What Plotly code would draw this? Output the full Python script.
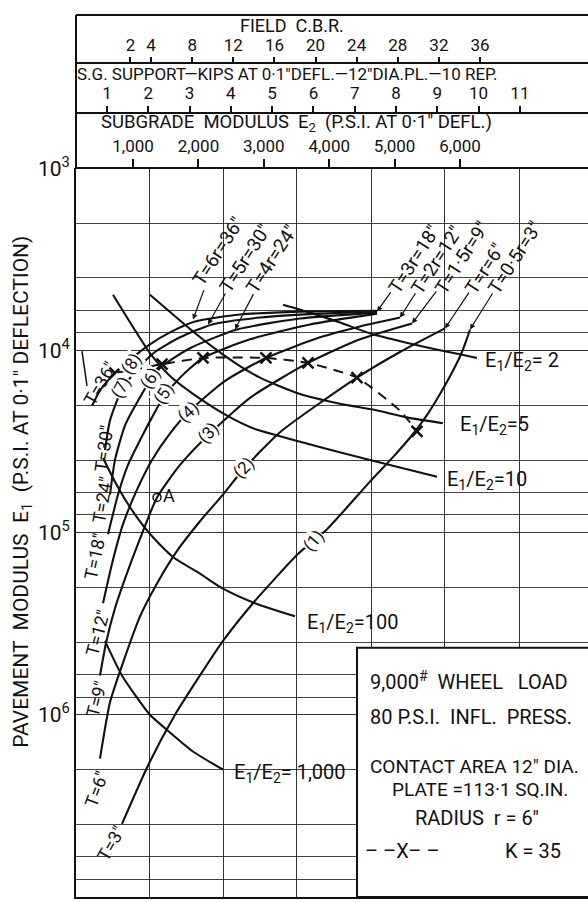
import math
import plotly.graph_objects as go

FONT = "Roboto, Liberation Sans, sans-serif"
INK = "#111111"

# ---------------- scales / tick labels ----------------
cbr_ticks = [2, 4, 8, 12, 16, 20, 24, 28, 32, 36]
kip_ticks = [1, 2, 3, 4, 5, 6, 7, 8, 9, 10, 11]
kip_labels = ["1", "2", "3", "4", "5", "6", "7", "8", "9", "10", "11"]
e2_ticks = [1000, 2000, 3000, 4000, 5000, 6000]
e2_labels = ["1,000", "2,000", "3,000", "4,000", "5,000", "6,000"]
e1_ticks = [1e3, 1e4, 1e5, 1e6, 1e7]
e1_labels = ["10<sup>3</sup>", "10<sup>4</sup>", "10<sup>5</sup>", "10<sup>6</sup>", "10<sup>7</sup>"]
e1_grid = [m * 10 ** p for p in range(3, 7) for m in (2, 4, 6, 8)]
e2_grid = [1259, 2376, 3507, 4639, 5770, 6902]

E2_RANGE = [128, 7957]
KIP_RANGE = [0.25, 12.65]
CBR_RANGE = [-3.3, 46.5]

# ---------------- thickness curves (E2 psi, E1 psi) ----------------
t36_e2 = [373, 495, 724, 985, 1259, 1566, 1948, 2636, 3553, 4731]
t36_e1 = [2.01e4, 1.66e4, 1.33e4, 1.10e4, 9.25e3, 7.96e3, 6.94e3, 6.35e3, 6.12e3, 6.05e3]
t30_e2 = [571, 648, 801, 1031, 1336, 1719, 2208, 2942, 3859, 4731]
t30_e1 = [3.52e4, 2.42e4, 1.73e4, 1.30e4, 1.02e4, 8.47e3, 7.20e3, 6.60e3, 6.28e3, 6.12e3]
t24_e2 = [648, 724, 878, 1076, 1259, 1443, 1871, 2590, 3553, 4731]
t24_e1 = [6.18e4, 3.99e4, 2.58e4, 1.89e4, 1.47e4, 1.22e4, 9.72e3, 7.67e3, 6.68e3, 6.20e3]
t18_e2 = [618, 771, 923, 1107, 1290, 1459, 1719, 2070, 2789, 3706, 4731]
t18_e1 = [1.02e5, 6.18e4, 4.25e4, 3.11e4, 2.33e4, 1.82e4, 1.41e4, 1.10e4, 8.69e3, 7.20e3, 6.28e3]
t12_e2 = [541, 679, 847, 1061, 1290, 1566, 1841, 2407, 3033, 3859, 4471, 5082]
t12_e1 = [2.44e5, 1.48e5, 8.99e4, 5.81e4, 3.99e4, 2.85e4, 2.19e4, 1.47e4, 1.10e4, 8.47e3, 7.38e3, 6.60e3]
t9_e2 = [495, 587, 724, 878, 1107, 1367, 1719, 2147, 2789, 3676, 4471, 5266]
t9_e1 = [6.08e5, 4.03e5, 2.60e5, 1.79e5, 1.08e5, 6.41e4, 4.25e4, 2.92e4, 1.82e4, 1.17e4, 8.69e3, 7.11e3]
t6_e2 = [495, 648, 847, 1107, 1367, 1673, 2024, 2376, 2682, 3248, 4425, 5082, 5770]
t6_e1 = [1.74e6, 8.53e5, 5.17e5, 2.88e5, 1.90e5, 1.26e5, 8.66e4, 6.18e4, 4.52e4, 2.81e4, 1.41e4, 1.02e4, 7.57e3]
t3_e2 = [831, 1244, 1642, 2024, 2376, 2834, 3522, 3966, 4623, 4975, 5266, 5510, 5725, 5908, 6030, 6107, 6153]
t3_e1 = [3.97e6, 1.85e6, 1.0e6, 6.08e5, 3.93e5, 2.44e5, 1.31e5, 9.57e4, 5.25e4, 3.85e4, 2.92e4,
         2.22e4, 1.66e4, 1.26e4, 1.02e4, 8.58e3, 7.67e3]

# ---------------- E1/E2 ratio curves ----------------
r2_e2 = [3293, 3706, 4165, 4669, 5281, 5693, 5999, 6259]
r2_e1 = [5.61e3, 6.20e3, 7.03e3, 8.16e3, 9.25e3, 9.97e3, 1.05e4, 1.10e4]
r5_e2 = [1259, 1917, 2284, 2636, 2941, 3507, 4165, 4669, 5189, 5739]
r5_e1 = [4.95e3, 7.87e3, 9.97e3, 1.22e4, 1.41e4, 1.71e4, 1.96e4, 2.11e4, 2.33e4, 2.51e4]
r10_e2 = [694, 1259, 1565, 2024, 2437, 2834, 3752, 4623, 5648]
r10_e1 = [4.95e3, 1.035e4, 1.38e4, 1.84e4, 2.28e4, 2.67e4, 3.31e4, 3.99e4, 4.93e4]
r100_e2 = [541, 724, 908, 1137, 1305, 1611, 2024, 2376, 2865, 3477]
r100_e1 = [3.89e4, 5.25e4, 6.83e4, 8.99e4, 1.06e5, 1.36e5, 1.68e5, 2.03e5, 2.44e5, 2.88e5]
r1000_e2 = [571, 831, 1259, 1519, 1917, 2376]
r1000_e1 = [3.93e5, 6.08e5, 1.0e6, 1.21e6, 1.59e6, 2.0e6]

# ---------------- K = 35 dashed line ----------------
k35_e2 = [724, 1443, 2070, 3033, 3675, 4424, 5082, 5342]
k35_e1 = [1.33e4, 1.19e4, 1.10e4, 1.10e4, 1.17e4, 1.41e4, 2.14e4, 2.78e4]
k35_mark = [1, 1, 1, 1, 1, 1, 0, 1]

# point A
a_e2 = [1367]
a_e1 = [6.41e4]

fig = go.Figure()

curve_style = dict(color=INK, width=2.1, shape="spline", smoothing=0.6)
for xs, ys in [(t36_e2, t36_e1), (t30_e2, t30_e1), (t24_e2, t24_e1), (t18_e2, t18_e1),
               (t12_e2, t12_e1), (t9_e2, t9_e1), (t6_e2, t6_e1), (t3_e2, t3_e1),
               (r2_e2, r2_e1), (r5_e2, r5_e1), (r10_e2, r10_e1), (r100_e2, r100_e1),
               (r1000_e2, r1000_e1)]:
    fig.add_trace(go.Scatter(x=xs, y=ys, mode="lines", line=curve_style,
                             hoverinfo="skip", showlegend=False))

fig.add_trace(go.Scatter(x=k35_e2, y=k35_e1, mode="lines",
                         line=dict(color=INK, width=2, dash="10px,7px", shape="spline", smoothing=0.5),
                         hoverinfo="skip", showlegend=False))
fig.add_trace(go.Scatter(x=[x for x, m in zip(k35_e2, k35_mark) if m],
                         y=[y for y, m in zip(k35_e1, k35_mark) if m],
                         mode="markers",
                         marker=dict(symbol="x-thin", size=11, line=dict(color=INK, width=2.5)),
                         hoverinfo="skip", showlegend=False))
fig.add_trace(go.Scatter(x=a_e2, y=a_e1, mode="markers+text", text=["A"],
                         textposition="middle right",
                         textfont=dict(size=18, color=INK, family=FONT),
                         marker=dict(symbol="circle-open", size=8, color=INK, line=dict(width=1.5)),
                         hoverinfo="skip", showlegend=False))

# invisible traces so the top scales are drawn
for ax_name, vals in [("x2", e2_ticks), ("x3", kip_ticks), ("x4", cbr_ticks)]:
    fig.add_trace(go.Scatter(x=vals, y=[1e3] * len(vals), xaxis=ax_name, yaxis="y",
                             mode="markers", marker=dict(opacity=0), hoverinfo="skip",
                             showlegend=False))

ann = []
L = math.log10

# curve numbers
for txt, x, y, ang in [("(1)", 3752, 1.11e5, -50), ("(2)", 2682, 4.41e4, -45),
                       ("(3)", 2147, 2.85e4, -48), ("(4)", 1841, 2.19e4, -42),
                       ("(5)", 1459, 1.73e4, -58), ("(6)", 1259, 1.41e4, -58),
                       ("(7)", 801, 1.60e4, -62), ("(8)", 969, 1.19e4, -55)]:
    ann.append(dict(x=x, y=L(y), xref="x", yref="y", text=txt, showarrow=False,
                    textangle=ang, bgcolor="white", borderpad=0,
                    font=dict(size=17, color=INK, family=FONT)))

# top labels with leaders
for txt, x, y, axp, ayp in [("T=6r=36\"", 1917, 6.77e3, 25, -68),
                            ("T=5r=30\"", 2147, 7.20e3, 37, -66),
                            ("T=4r=24\"", 2559, 7.67e3, 37, -71),
                            ("T=3r=18\"", 4731, 6.12e3, 37, -52),
                            ("T=2r=12\"", 5082, 6.60e3, 37, -58),
                            ("T=1·5r=9\"", 5266, 7.11e3, 50, -66),
                            ("T=r=6\"", 5770, 7.57e3, 40, -60),
                            ("T=0·5r=3\"", 6153, 7.67e3, 45, -72)]:
    ann.append(dict(x=x, y=L(y), xref="x", yref="y", text=txt, showarrow=True,
                    ax=axp, ay=ayp, textangle=-57, arrowhead=2, arrowsize=0.9,
                    arrowwidth=1.2, arrowcolor=INK, standoff=0,
                    font=dict(size=19, color=INK, family=FONT)))

# left thickness labels
for txt, x, ylog, ang in [("T=3\"", 664, 6.707, -60), ("T=6\"", 434, 6.408, -70),
                          ("T=9\"", 434, 5.914, -75), ("T=12\"", 450, 5.551, -75),
                          ("T=18\"", 419, 5.132, -78), ("T=24\"", 526, 4.822, -80),
                          ("T=30\"", 557, 4.540, -82), ("T=36\"", 495, 4.183, -60)]:
    ann.append(dict(x=x, y=ylog, xref="x", yref="y", text=txt, showarrow=False,
                    textangle=ang, font=dict(size=18, color=INK, family=FONT)))

# ratio labels
for txt, x, ylog in [("E<sub>1</sub>/E<sub>2</sub>= 2", 6351, 4.058),
                     ("E<sub>1</sub>/E<sub>2</sub>=5", 5969, 4.411),
                     ("E<sub>1</sub>/E<sub>2</sub>=10", 5770, 4.710),
                     ("E<sub>1</sub>/E<sub>2</sub>=100", 3630, 5.497),
                     ("E<sub>1</sub>/E<sub>2</sub>= 1,000", 2514, 6.322)]:
    ann.append(dict(x=x, y=ylog, xref="x", yref="y", text=txt, showarrow=False,
                    xanchor="left", yanchor="middle",
                    font=dict(size=20, color=INK, family=FONT)))

# legend box text
for txt, x, ylog, xa, sz in [("9,000<sup>#</sup>  WHEEL   LOAD", 4593, 5.817, "left", 20),
                             ("80 P.S.I.  INFL.  PRESS.", 4593, 6.012, "left", 20),
                             ("CONTACT AREA 12\" DIA.", 4593, 6.284, "left", 19),
                             ("PLATE =113·1 SQ.IN.", 6305, 6.408, "center", 19),
                             ("RADIUS  r = 6\"", 6259, 6.566, "center", 20),
                             ("– –X– –", 5113, 6.745, "center", 20),
                             ("K = 35", 7116, 6.745, "center", 20)]:
    ann.append(dict(x=x, y=ylog, xref="x", yref="y", text=txt, showarrow=False,
                    xanchor=xa, yanchor="middle",
                    font=dict(size=sz, color=INK, family=FONT)))

# band titles
for txt, xp, yp, sz in [("FIELD  C.B.R.", 0.4219, 0.9876, 18),
                        ("S.G. SUPPORT—KIPS AT 0·1\"DEFL.—12\"DIA.PL.—10 REP.", 0.414, 0.9327, 17),
                        ("SUBGRADE  MODULUS  E<sub>2</sub>  (P.S.I. AT 0·1\" DEFL.)", 0.4297, 0.8778, 18.5)]:
    ann.append(dict(x=xp, y=yp, xref="paper", yref="paper", text=txt, showarrow=False,
                    xanchor="center", yanchor="middle",
                    font=dict(size=sz, color=INK, family=FONT)))

ann.append(dict(x=-0.105, y=0.4596, xref="paper", yref="paper",
                text="PAVEMENT  MODULUS  E<sub>1</sub>  (P.S.I. AT 0·1\" DEFLECTION)",
                showarrow=False, textangle=-90, xanchor="center", yanchor="middle",
                font=dict(size=21, color=INK, family=FONT)))

shapes = [
    dict(type="line", xref="paper", yref="paper", x0=0, x1=1.01, y0=1, y1=1,
         line=dict(color=INK, width=2)),
    dict(type="line", xref="paper", yref="paper", x0=0, x1=0, y0=0.8262, y1=1,
         line=dict(color=INK, width=2)),
    dict(type="rect", xref="paper", yref="paper", x0=0.5488, x1=1.02, y0=0, y1=0.2825,
         fillcolor="white", line=dict(color=INK, width=2), layer="above"),
    # short leader stroke beside the T=36" label
    dict(type="line", xref="paper", yref="paper", x0=0.0117, y0=0.6188, x1=0.0215, y1=0.5796,
         line=dict(color=INK, width=1.5)),
]

top_axis = dict(overlaying="x", anchor="free", side="top", showline=True, linecolor=INK,
                linewidth=2, ticks="outside", tickwidth=1.5, tickcolor=INK,
                showgrid=False, zeroline=False, tickfont=dict(size=17, color=INK, family=FONT))

fig.update_layout(
    width=588, height=902,
    margin=dict(l=76, r=0, t=5, b=5),
    paper_bgcolor="white", plot_bgcolor="white",
    font=dict(family=FONT, color=INK, size=20),
    showlegend=False,
    xaxis=dict(range=E2_RANGE, tickmode="array", tickvals=e2_grid, showticklabels=False,
               ticks="", showgrid=True, gridcolor="#333333", gridwidth=1,
               showline=True, linecolor=INK, linewidth=2, zeroline=False),
    xaxis2=dict(top_axis, range=E2_RANGE, tickmode="array", tickvals=e2_ticks,
                ticktext=e2_labels, position=0.82623, ticklen=8),
    xaxis3=dict(top_axis, range=KIP_RANGE, tickmode="array", tickvals=kip_ticks,
                ticktext=kip_labels, position=0.88901, ticklen=6),
    xaxis4=dict(top_axis, range=CBR_RANGE, tickmode="array", tickvals=cbr_ticks,
                position=0.94507, ticklen=5),
    yaxis=dict(type="log", range=[7, 3], domain=[0, 0.82623], tickmode="array",
               tickvals=e1_ticks, ticktext=e1_labels, ticks="", showgrid=True,
               gridcolor="#333333", gridwidth=1, showline=True, linecolor=INK, linewidth=2,
               zeroline=False, tickfont=dict(size=21, color=INK, family=FONT),
               minor=dict(tickvals=e1_grid, showgrid=True, gridcolor="#444444", gridwidth=1)),
    annotations=ann,
    shapes=shapes,
)

fig.write_html("out.html", config={"displayModeBar": False},
               post_script="document.body.style.margin='0px';document.body.style.overflow='hidden';")
